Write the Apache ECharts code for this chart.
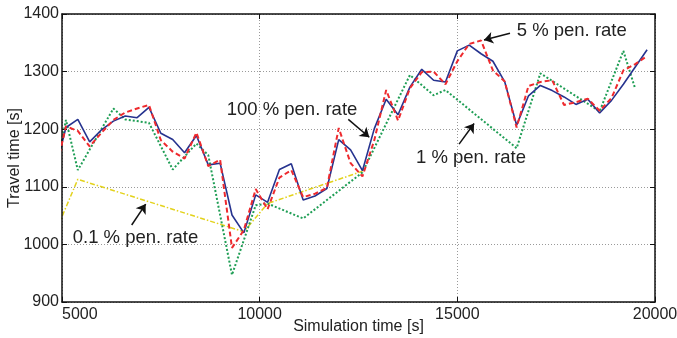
<!DOCTYPE html>
<html>
<head>
<meta charset="utf-8">
<script src="https://cdn.jsdelivr.net/npm/echarts@6/dist/echarts.min.js"></script>
<style>
html,body{margin:0;padding:0;background:#fff;}
#chart{width:677px;height:338px;}
</style>
</head>
<body>
<div id="chart"></div>
<script>
// ---- data ----
const timesFull = [4800,5100,5400,5700,6000,6300,6600,6900,7200,7500,7800,8100,8400,8700,9000,9300,9600,9900,10200,10500,10800,11100,11400,11700,12000,12300,12600,12900,13200,13500,13800,14100,14400,14700,15000,15300,15600,15900,16200,16500,16800,17100,17400,17700,18000,18300,18600,18900,19200,19500,19800];
const rate100 = [1122,1203,1217,1178,1199,1214,1223,1220,1238,1193,1182,1159,1189,1138,1141,1051,1020,1086,1073,1130,1140,1077,1084,1097,1182,1164,1128,1201,1252,1225,1273,1304,1285,1282,1336,1346,1331,1318,1282,1207,1258,1276,1267,1256,1243,1252,1228,1250,1278,1308,1338];
const rate5 = [1117,1205,1197,1170,1194,1216,1229,1236,1242,1181,1161,1149,1194,1136,1147,994,1025,1096,1061,1116,1129,1082,1088,1098,1202,1141,1118,1181,1268,1215,1271,1299,1300,1278,1318,1348,1354,1302,1283,1203,1275,1282,1285,1242,1247,1253,1232,1254,1302,1313,1327];
const times1 = [4800,5100,5400,6300,6600,7200,7800,8400,8700,9300,9900,10200,11100,12600,13800,14400,14700,16500,17100,18600,19200,19500];
const rate1 = [1111,1216,1129,1236,1217,1211,1130,1175,1155,947,1068,1071,1045,1125,1294,1259,1268,1167,1297,1231,1336,1270];
const times01 = [4800,5400,9600,10200,12600];
const rate01 = [1016,1113,1022,1071,1127];
const xTicks = [5000,10000,15000,20000];
const yTicks = [900,1000,1100,1200,1300,1400];
const annoTexts = ['100 % pen. rate','5 % pen. rate','1 % pen. rate','0.1 % pen. rate'];
const annoAt = [[9166,1233],[16502,1371],[13954,1150.5],[5271,1011.7]];
const arrowFrom = [[12242,1217],[16332,1366.5],[15044,1174],[6763,1033.7]];
const arrowTo = [[12773,1186],[15674,1355],[15424,1210],[7117,1070]];

const FONT = "'Liberation Sans', Arial, Helvetica, sans-serif";
const pairs = (xs, ys) => xs.map((x, i) => [x, ys[i]]);
const xMin = xTicks[0], xMax = xTicks[xTicks.length-1];
const yMin = yTicks[0], yMax = yTicks[yTicks.length-1];
const xInt = xTicks[1]-xTicks[0], yInt = yTicks[1]-yTicks[0];
const plain = v => String(v);

const chart = echarts.init(document.getElementById('chart'), null, {renderer:'canvas'});

const baseX = {type:'value', min:xMin, max:xMax, interval:xInt};
const baseY = {type:'value', min:yMin, max:yMax, interval:yInt};
const boxLine = {show:true, onZero:false, lineStyle:{color:'#111', width:1.5}};
const tick = {show:true, inside:true, length:5, lineStyle:{color:'#111', width:1}};
const grid = {show:true, lineStyle:{color:'#9a9a9a', width:1, type:[1,2]}};

chart.setOption({
  animation:false,
  backgroundColor:'#fff',
  grid:{left:62, right:22, top:14, bottom:36, containLabel:false, outerBoundsMode:'none'},
  xAxis:[
    Object.assign({}, baseX, {position:'bottom', z:5, axisLine:boxLine, axisTick:tick,
      axisLabel:{show:true, fontSize:16, color:'#222', fontFamily:FONT, margin:5, alignMinLabel:'left', formatter:plain},
      splitLine:{show:false},
      name:'Simulation time [s]', nameLocation:'middle', nameGap:17, nameMoveOverlap:false,
      nameTextStyle:{fontSize:16, color:'#222', fontFamily:FONT}}),
    Object.assign({}, baseX, {position:'top', z:5, axisLine:boxLine, axisTick:tick,
      axisLabel:{show:false}, splitLine:{show:false}}),
    Object.assign({}, baseX, {position:'bottom', z:1, axisLine:{show:false}, axisTick:{show:false},
      axisLabel:{show:false}, splitLine:grid})
  ],
  yAxis:[
    Object.assign({}, baseY, {position:'left', z:5, axisLine:boxLine, axisTick:tick,
      axisLabel:{show:true, fontSize:16, color:'#222', fontFamily:FONT, margin:3, formatter:plain},
      splitLine:{show:false},
      name:'Travel time [s]', nameLocation:'middle', nameGap:39, nameRotate:90, nameMoveOverlap:false,
      nameTextStyle:{fontSize:16, color:'#222', fontFamily:FONT}}),
    Object.assign({}, baseY, {position:'right', z:5, axisLine:boxLine, axisTick:tick,
      axisLabel:{show:false}, splitLine:{show:false}}),
    Object.assign({}, baseY, {position:'left', z:1, axisLine:{show:false}, axisTick:{show:false},
      axisLabel:{show:false}, splitLine:grid})
  ],
  series:[
    {name:'0.1 %', type:'line', data:pairs(times01, rate01), showSymbol:false, clip:true,
      lineStyle:{color:'#e3d21c', width:1.5, type:[5,2,1.5,2]}, z:2},
    {name:'1 %', type:'line', data:pairs(times1, rate1), showSymbol:false, clip:true,
      lineStyle:{color:'#1f9e55', width:2, type:[2,2]}, z:3},
    {name:'100 %', type:'line', data:pairs(timesFull, rate100), showSymbol:false, clip:true,
      lineStyle:{color:'#26338f', width:1.6, type:'solid'}, z:4},
    {name:'5 %', type:'line', data:pairs(timesFull, rate5), showSymbol:false, clip:true,
      lineStyle:{color:'#ee2a2e', width:2, type:[5,3]}, z:5,
      markLine:{silent:true, symbol:['none','arrow'], symbolSize:9, animation:false,
        label:{show:false}, emphasis:{disabled:true},
        lineStyle:{color:'#111', width:1.5, type:'solid'},
        data: arrowFrom.map((f, i) => [{coord:f}, {coord:arrowTo[i]}])}}
  ]
});

const g = annoTexts.map((txt, i) => {
  const p = chart.convertToPixel({xAxisIndex:0, yAxisIndex:0}, annoAt[i]);
  return {type:'text', x:p[0], y:p[1], z:10,
    style:{text:txt, fill:'#222', font:"18.5px " + FONT, textVerticalAlign:'middle', verticalAlign:'middle', align:'left'}};
});
chart.setOption({graphic:g});
</script>
</body>
</html>
